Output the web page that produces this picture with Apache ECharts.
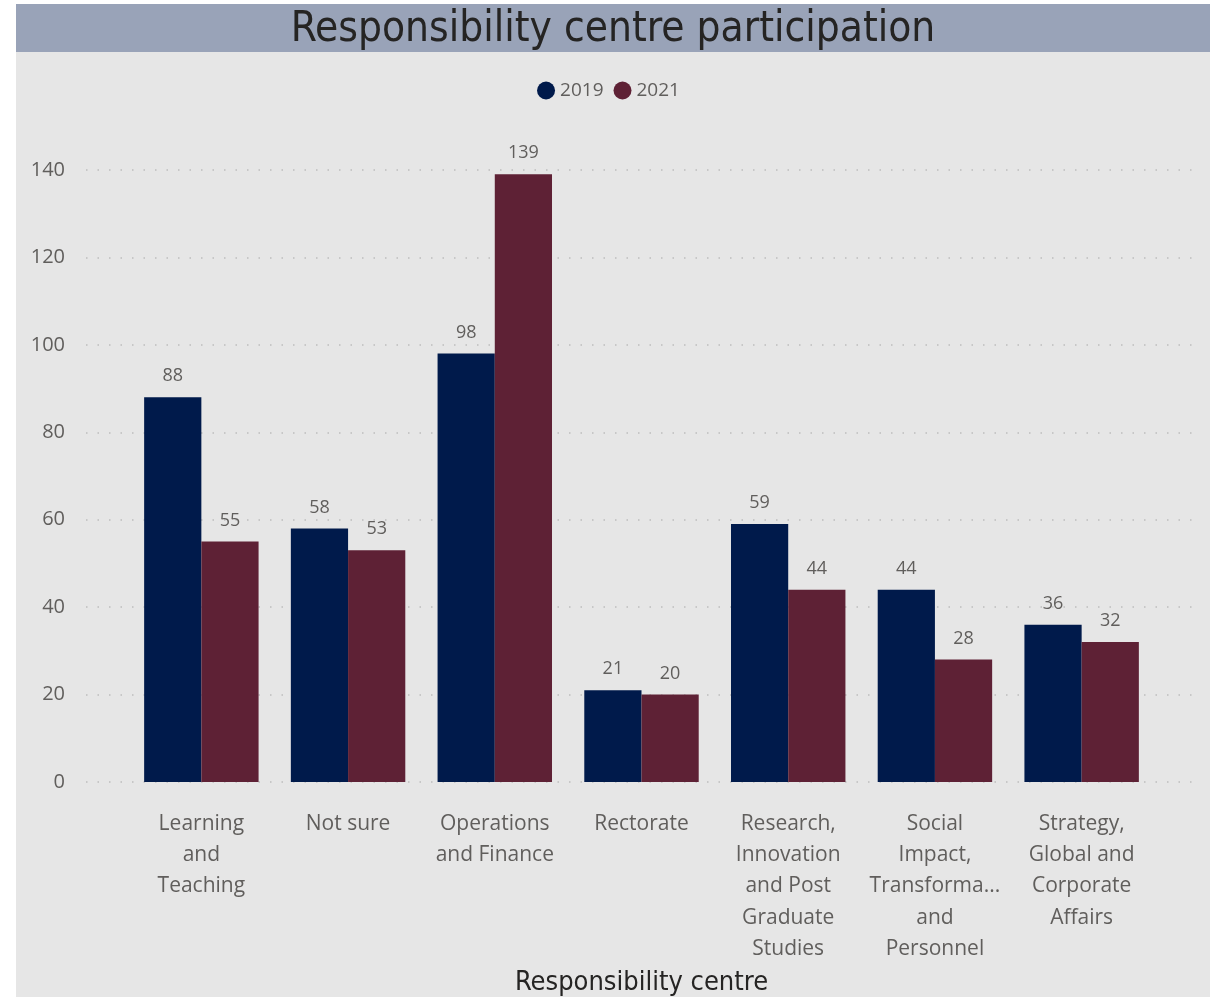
<!DOCTYPE html>
<html>
<head>
<meta charset="utf-8">
<title>Responsibility centre participation</title>
<script src="https://cdn.jsdelivr.net/npm/echarts@6/dist/echarts.min.js"></script>
<style>
  html, body { margin: 0; padding: 0; background: #ffffff; }
  #chart { width: 1217px; height: 997px; }
</style>
</head>
<body>
<div id="chart"></div>
<script>
// Responsibility centres (categories) and their wrapped axis labels
const categories = [
  'Learning and Teaching',
  'Not sure',
  'Operations and Finance',
  'Rectorate',
  'Research, Innovation and Post Graduate Studies',
  'Social Impact, Transformation and Personnel',
  'Strategy, Global and Corporate Affairs'
];
const categoryLabels = [
  'Learning\nand\nTeaching',
  'Not sure',
  'Operations\nand Finance',
  'Rectorate',
  'Research,\nInnovation\nand Post\nGraduate\nStudies',
  'Social\nImpact,\nTransforma...\nand\nPersonnel',
  'Strategy,\nGlobal and\nCorporate\nAffairs'
];

// Participation counts per year
const values2019 = [88, 58, 98, 21, 59, 44, 36];
const values2021 = [55, 53, 139, 20, 44, 28, 32];

// Value axis ticks
const yMin = 0;
const yMax = 140;
const yStep = 20;

const uiFont = '"Segoe UI", "Open Sans", "Noto Sans", sans-serif';
const headFont = '"DejaVu Sans Condensed", "DejaVu Sans", sans-serif';

const chart = echarts.init(document.getElementById('chart'), null, { renderer: 'canvas' });

const labelMap = {};
categories.forEach((c, i) => { labelMap[c] = categoryLabels[i]; });

const option = {
  animation: false,
  backgroundColor: '#ffffff',
  graphic: [
    { type: 'rect', z: -10, shape: { x: 16, y: 4, width: 1194, height: 993 }, style: { fill: '#e6e6e6' } },
    { type: 'rect', z: -9, shape: { x: 16, y: 4, width: 1194, height: 48 }, style: { fill: '#99a3b8' } },
    {
      type: 'text', z: 10, x: 613, y: 30,
      style: {
        text: 'Responsibility centre participation',
        font: '42px ' + headFont,
        fill: '#252423',
        align: 'center',
        verticalAlign: 'middle'
      }
    }
  ],
  legend: {
    top: 76,
    left: 'center',
    icon: 'circle',
    itemWidth: 18,
    itemHeight: 18,
    itemGap: 10,
    textStyle: { fontFamily: uiFont, fontSize: 19, color: '#605e5c' },
    data: ['2019', '2021']
  },
  grid: [
    { left: 86, right: 17, top: 170, bottom: 215, outerBoundsMode: 'none', containLabel: false },
    { left: 128, right: 62, top: 170, bottom: 215, outerBoundsMode: 'none', containLabel: false }
  ],
  xAxis: [
    {
      gridIndex: 0, type: 'value', min: 0, max: 1, show: false
    },
    {
      gridIndex: 1,
      type: 'category',
      data: categories,
      axisLine: { show: false },
      axisTick: { show: false },
      axisLabel: {
        interval: 0,
        margin: 26,
        fontFamily: uiFont,
        fontSize: 21,
        lineHeight: 31.3,
        color: '#605e5c',
        formatter: (v) => labelMap[v]
      },
      name: 'Responsibility centre',
      nameLocation: 'middle',
      nameGap: 180,
      nameTextStyle: { fontFamily: headFont, fontSize: 27, color: '#252423' }
    }
  ],
  yAxis: [
    {
      gridIndex: 0,
      type: 'value',
      min: yMin, max: yMax, interval: yStep,
      axisLine: { show: false },
      axisTick: { show: false },
      axisLabel: { margin: 21, fontFamily: uiFont, fontSize: 20, color: '#605e5c' },
      splitLine: { show: true, lineStyle: { color: '#bdbdbd', width: 1.5, type: [1.5, 10] } }
    },
    {
      gridIndex: 1,
      type: 'value',
      min: yMin, max: yMax, interval: yStep,
      show: false,
      splitLine: { show: false }
    }
  ],
  series: [
    {
      name: '2019',
      type: 'bar',
      xAxisIndex: 1, yAxisIndex: 1,
      data: values2019,
      barGap: '0%',
      barCategoryGap: '22%',
      itemStyle: { color: '#001a4b' },
      label: { show: true, position: 'top', distance: 12, fontFamily: uiFont, fontSize: 18, color: '#605e5c' }
    },
    {
      name: '2021',
      type: 'bar',
      xAxisIndex: 1, yAxisIndex: 1,
      data: values2021,
      barGap: '0%',
      barCategoryGap: '22%',
      itemStyle: { color: '#5e2135' },
      label: { show: true, position: 'top', distance: 12, fontFamily: uiFont, fontSize: 18, color: '#605e5c' }
    }
  ]
};

chart.setOption(option);
</script>
</body>
</html>
